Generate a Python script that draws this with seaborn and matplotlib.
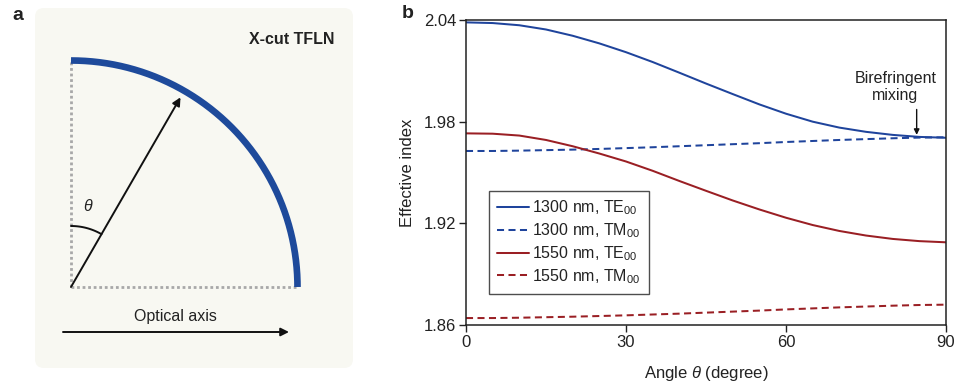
import numpy as np
import pandas as pd
import matplotlib
matplotlib.use("Agg")
import matplotlib.pyplot as plt
import seaborn as sns
from matplotlib.patches import FancyBboxPatch

# ---------------- data ----------------
theta = [0, 5, 10, 15, 20, 25, 30, 35, 40, 45, 50, 55, 60, 65, 70, 75, 80, 85, 90]
te_1300 = [2.0386, 2.0382, 2.0369, 2.0344, 2.0307, 2.0262, 2.0210, 2.0152, 2.0089, 2.0025,
           1.9963, 1.9902, 1.9847, 1.9800, 1.9765, 1.9740, 1.9722, 1.9710, 1.9705]
tm_1300 = [1.9627, 1.9627, 1.9629, 1.9632, 1.9635, 1.9639, 1.9644, 1.9649, 1.9655, 1.9661,
           1.9667, 1.9673, 1.9680, 1.9686, 1.9692, 1.9697, 1.9702, 1.9706, 1.9708]
te_1550 = [1.9731, 1.9729, 1.9718, 1.9692, 1.9655, 1.9612, 1.9565, 1.9510, 1.9450, 1.9392,
           1.9335, 1.9282, 1.9233, 1.9190, 1.9155, 1.9128, 1.9108, 1.9095, 1.9088]
tm_1550 = [1.8641, 1.8641, 1.8643, 1.8646, 1.8649, 1.8653, 1.8657, 1.8662, 1.8667, 1.8673,
           1.8679, 1.8685, 1.8692, 1.8698, 1.8704, 1.8709, 1.8714, 1.8718, 1.8720]
series_labels = ["1300 nm, TE$_{00}$", "1300 nm, TM$_{00}$",
                 "1550 nm, TE$_{00}$", "1550 nm, TM$_{00}$"]
x_ticks = [0, 30, 60, 90]
y_ticks = [1.86, 1.92, 1.98, 2.04]

BLUE = "#1f449c"
RED = "#9a1f24"
TXT = "#222222"

sns.set_theme(style="white")
plt.rcParams["font.family"] = ["Liberation Sans", "DejaVu Sans"]
plt.rcParams["mathtext.fontset"] = "custom"
plt.rcParams["mathtext.rm"] = "Liberation Sans"
plt.rcParams["mathtext.it"] = "Liberation Sans:italic"
plt.rcParams["mathtext.default"] = "regular"

fig = plt.figure(figsize=(9.56, 3.85), dpi=100)

# ---------------- panel a (schematic, pixel coordinates) ----------------
axa = fig.add_axes([0, 0, 1, 1])
axa.set_xlim(0, 956)
axa.set_ylim(385, 0)
axa.axis("off")
axa.patch.set_alpha(0)

bg = FancyBboxPatch((43, 16), 302, 344, boxstyle="round,pad=8,rounding_size=9",
                    fc="#f8f8f2", ec="none", zorder=0)
axa.add_patch(bg)

cx, cy, R = 71, 287, 226.5
t = np.linspace(0, np.pi / 2, 200)
axa.plot(cx + R * np.sin(t), cy - R * np.cos(t), color="#1e4a9b", lw=4.8,
         solid_capstyle="butt", zorder=3)
axa.plot([cx, cx], [cy, cy - R], color="#a8a8a8", lw=2.0, ls=(0, (1, 1)), zorder=2)
axa.plot([cx, cx + R], [cy, cy], color="#a8a8a8", lw=2.0, ls=(0, (1, 1)), zorder=2)

ang = np.deg2rad(30)
L = 219
axa.annotate("", xy=(cx + L * np.sin(ang), cy - L * np.cos(ang)), xytext=(cx, cy),
             arrowprops=dict(arrowstyle="-|>", color="#111111", lw=1.4,
                             mutation_scale=12, shrinkA=0, shrinkB=0), zorder=4)
r = 61
ta = np.linspace(0, ang, 50)
axa.plot(cx + r * np.sin(ta), cy - r * np.cos(ta), color="#111111", lw=1.4, zorder=4)
axa.text(88, 206, r"$\theta$", fontsize=11.5, color=TXT, ha="center", va="center",
         fontstyle="italic")

axa.text(292, 39, "X-cut TFLN", fontsize=11.5, fontweight="bold", color=TXT,
         ha="center", va="center")
axa.text(175, 317, "Optical axis", fontsize=11.5, color=TXT, ha="center", va="center")
axa.annotate("", xy=(289, 332), xytext=(63, 332),
             arrowprops=dict(arrowstyle="-|>", color="#111111", lw=1.4,
                             mutation_scale=12, shrinkA=0, shrinkB=0))

axa.text(18, 16, "a", fontsize=14, fontweight="bold", color=TXT, ha="center", va="center")
axa.text(408, 14, "b", fontsize=14, fontweight="bold", color=TXT, ha="center", va="center")

# ---------------- panel b ----------------
ax = fig.add_axes([466 / 956, 1 - 325 / 385, 480 / 956, 305 / 385])
ax.patch.set_alpha(0)

df = pd.DataFrame({
    "theta": theta * 4,
    "n": te_1300 + tm_1300 + te_1550 + tm_1550,
    "series": sum([[s] * len(theta) for s in series_labels], []),
})
palette = {series_labels[0]: BLUE, series_labels[1]: BLUE,
           series_labels[2]: RED, series_labels[3]: RED}
dashes = {series_labels[0]: "", series_labels[1]: (3.5, 2.2),
          series_labels[2]: "", series_labels[3]: (3.5, 2.2)}
sns.lineplot(data=df, x="theta", y="n", hue="series", style="series",
             palette=palette, dashes=dashes, linewidth=1.45, ax=ax,
             hue_order=series_labels, style_order=series_labels)

ax.set_xlim(0, 90)
ax.set_ylim(1.86, 2.04)
ax.set_xticks(x_ticks)
ax.set_yticks(y_ticks)
ax.set_yticklabels([f"{v:.2f}" for v in y_ticks])
ax.tick_params(axis="both", which="both", direction="out", length=5, width=1,
               color="#222222", labelsize=12, labelcolor=TXT, pad=2,
               bottom=True, left=True, top=False, right=False)
for sp in ax.spines.values():
    sp.set_color("#222222")
    sp.set_linewidth(1.1)
ax.set_xlabel(r"Angle $\mathit{\theta}$ (degree)", fontsize=12, color=TXT, labelpad=10)
ax.set_ylabel("Effective index", fontsize=12, color=TXT, labelpad=6)

leg = ax.legend(loc="upper left", bbox_to_anchor=(0.048, 0.44), borderaxespad=0,
                fontsize=11.5, frameon=True, fancybox=False, handlelength=2.0,
                handletextpad=0.2, labelspacing=0.25, borderpad=0.5)
leg.get_frame().set_edgecolor("#222222")
leg.get_frame().set_linewidth(1.0)
for txt in leg.get_texts():
    txt.set_color(TXT)

ax.annotate("", xy=(84.5, 1.9722), xytext=(84.5, 1.9872),
            arrowprops=dict(arrowstyle="-|>", color="#111111", lw=1.0,
                            mutation_scale=8, shrinkA=0, shrinkB=0))
ax.text(80.5, 2.0005, "Birefringent\nmixing", fontsize=11.5, color=TXT,
        ha="center", va="center", linespacing=1.15)

fig.savefig("out.png", dpi=100)
